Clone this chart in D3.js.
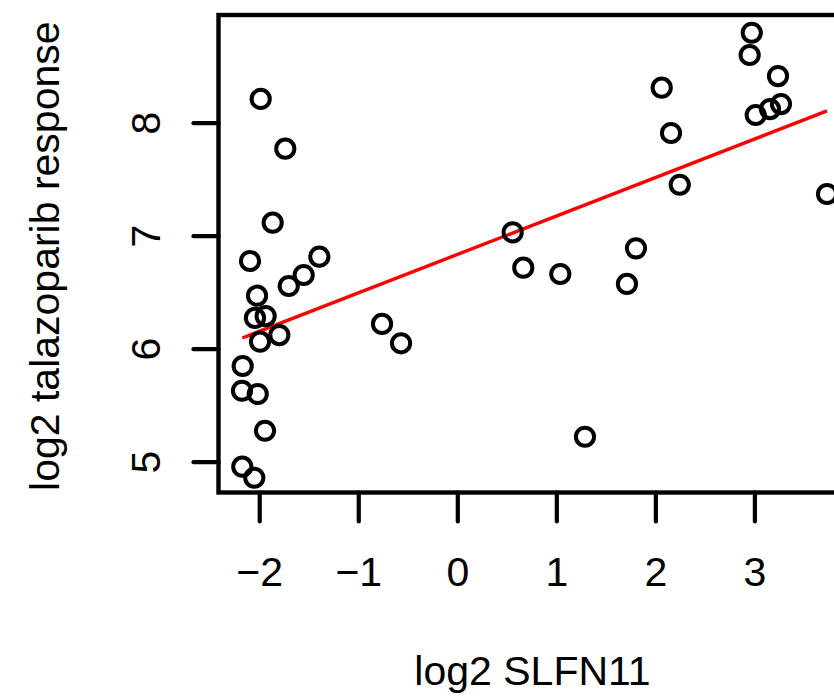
<!DOCTYPE html>
<html>
<head>
<meta charset="utf-8">
<script src="https://cdn.jsdelivr.net/npm/d3@7"></script>
<style>
  html, body { margin: 0; padding: 0; background: #fff; }
  svg { display: block; }
</style>
</head>
<body>
<svg id="chart" width="834" height="699"></svg>
<script>
// ---- data ----
const slfn11 = [-1.985, -1.737, -1.864, -2.093, -2.022, -2.043, -1.935, -1.992, -1.797, -1.702,
  -1.551, -1.393, -2.167, -2.174, -2.015, -1.942, -2.171, -2.050, -0.760, -0.568,
  0.559, 0.666, 1.040, 1.289, 1.713, 1.804, 2.064, 2.158, 2.246, 2.973,
  2.952, 3.238, 3.013, 3.157, 3.268, 3.733];
const talazoparib = [8.210, 7.770, 7.115, 6.776, 6.469, 6.272, 6.289, 6.062, 6.121, 6.555,
  6.652, 6.814, 5.847, 5.628, 5.599, 5.274, 4.956, 4.858, 6.219, 6.048,
  7.030, 6.717, 6.661, 5.221, 6.573, 6.888, 8.310, 7.909, 7.451, 8.796,
  8.599, 8.413, 8.068, 8.121, 8.165, 7.369];
const fitX = [-2.171, 3.733];
const fitY = [6.095, 8.104];
const xTicks = [-2, -1, 0, 1, 2, 3];
const yTicks = [5, 6, 7, 8];
const xTitle = "log2 SLFN11";
const yTitle = "log2 talazoparib response";

// ---- layout ----
const svg = d3.select("#chart");
const box = { left: 218.5, top: 15, bottom: 492.5, right: 880 };
const x = d3.scaleLinear().domain([0, 3]).range([457.3, 457.3 + 3 * 99.04]);
const y = d3.scaleLinear().domain([5, 8]).range([461.7, 122.7]);
const font = "'Liberation Sans', Arial, sans-serif";
const fs = "41px";

// regression line
svg.append("line")
  .attr("x1", x(fitX[0])).attr("y1", y(fitY[0]))
  .attr("x2", x(fitX[1])).attr("y2", y(fitY[1]))
  .attr("stroke", "#ff0000").attr("stroke-width", 3.4);

// points
svg.append("g").selectAll("circle")
  .data(slfn11.map((v, i) => [v, talazoparib[i]]))
  .join("circle")
  .attr("cx", d => x(d[0])).attr("cy", d => y(d[1]))
  .attr("r", 9.1)
  .attr("fill", "none").attr("stroke", "#000").attr("stroke-width", 4);

// box
svg.append("rect")
  .attr("x", box.left).attr("y", box.top)
  .attr("width", box.right - box.left).attr("height", box.bottom - box.top)
  .attr("fill", "none").attr("stroke", "#000").attr("stroke-width", 4.4);

// x axis
const xAxis = d3.axisBottom(x).tickValues(xTicks).tickSize(29).tickPadding(0)
  .tickFormat(d => d < 0 ? "\u2212" + Math.abs(d) : String(d));
const gx = svg.append("g").attr("transform", `translate(0,${box.bottom})`).call(xAxis);
gx.select(".domain").remove();
gx.selectAll(".tick line").attr("stroke", "#000").attr("stroke-width", 4.2).attr("stroke-linecap", "round");
gx.selectAll(".tick text")
  .attr("y", 93.5).attr("dy", null)
  .attr("fill", "#000").style("font-family", font).style("font-size", fs);

// y axis
const yAxis = d3.axisLeft(y).tickValues(yTicks).tickSize(25).tickPadding(0).tickFormat(d3.format("d"));
const gy = svg.append("g").attr("transform", `translate(${box.left},0)`).call(yAxis);
gy.select(".domain").remove();
gy.selectAll(".tick line").attr("stroke", "#000").attr("stroke-width", 4.2).attr("stroke-linecap", "round");
gy.selectAll(".tick text")
  .attr("x", null).attr("dy", null)
  .attr("transform", `translate(${160 - box.left},0) rotate(-90)`)
  .attr("text-anchor", "middle")
  .attr("fill", "#000").style("font-family", font).style("font-size", fs);

// titles
svg.append("text")
  .attr("x", 532.5).attr("y", 685)
  .attr("text-anchor", "middle")
  .style("font-family", font).style("font-size", fs).attr("fill", "#000")
  .text(xTitle);
svg.append("text")
  .attr("transform", "translate(58.5,256.2) rotate(-90)")
  .attr("text-anchor", "middle")
  .style("font-family", font).style("font-size", fs).attr("fill", "#000")
  .text(yTitle);
</script>
</body>
</html>
